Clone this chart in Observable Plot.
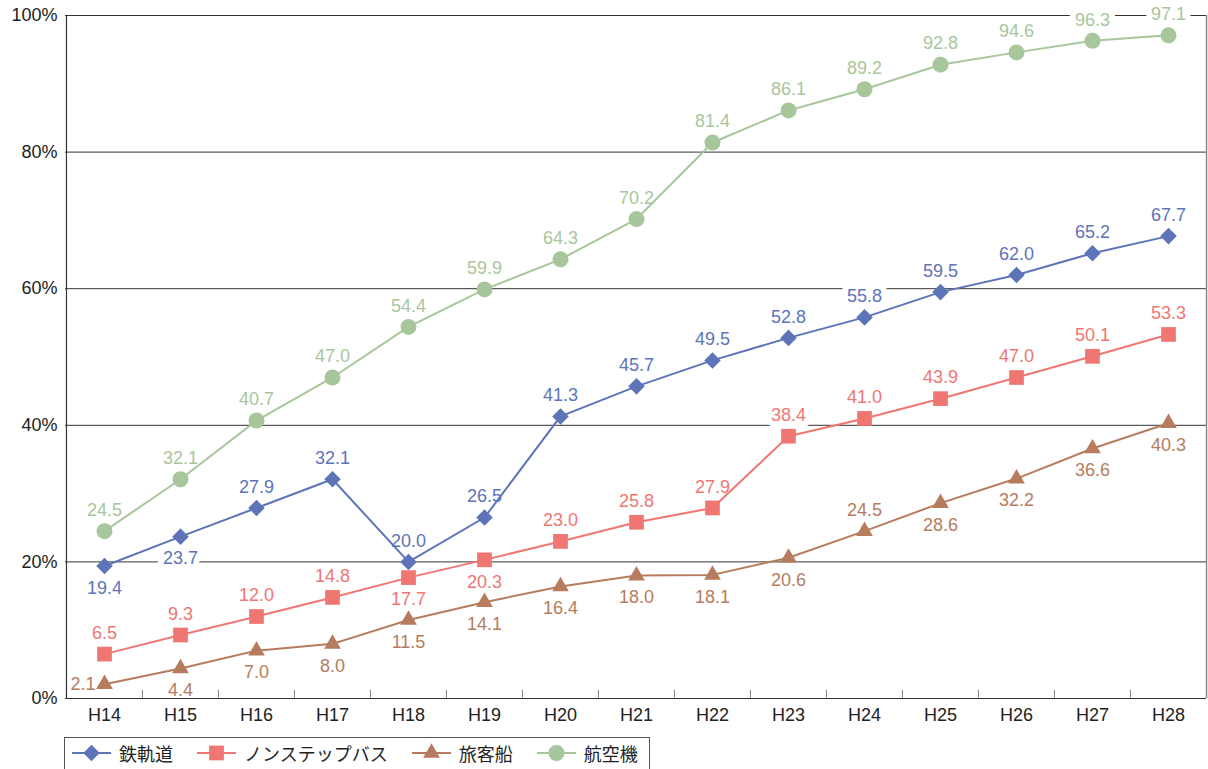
<!DOCTYPE html>
<html>
<head>
<meta charset="utf-8">
<script src="https://cdn.jsdelivr.net/npm/d3@7"></script>
<script src="https://cdn.jsdelivr.net/npm/@observablehq/plot@0.6"></script>
<style>
  html, body { margin: 0; padding: 0; background: #fff; overflow: hidden; }
  body { width: 1208px; height: 769px; position: relative; font-family: "Liberation Sans", "Noto Sans CJK JP", sans-serif; }
  #chart { position: absolute; left: 0; top: 0; }
  #legend { position: absolute; left: 64px; top: 737px; width: 586px; height: 40px; border: 1px solid #555; box-sizing: border-box;
            display: flex; align-items: center; padding: 0 0 8px 7px; font-size: 18px; color: #222; white-space: nowrap;
            font-family: "Noto Sans CJK JP", "Liberation Sans", sans-serif; }
  .item { display: flex; align-items: center; margin-right: 24px; flex-shrink: 0; white-space: nowrap; }
  .item svg { margin-right: 8px; flex-shrink: 0; }
</style>
</head>
<body>
<div id="chart"></div>
<div id="legend"></div>
<script>
const years = ["H14","H15","H16","H17","H18","H19","H20","H21","H22","H23","H24","H25","H26","H27","H28"];
const seriesNames = ["鉄軌道","ノンステップバス","旅客船","航空機"];
const rail = [19.4,23.7,27.9,32.1,20.0,26.5,41.3,45.7,49.5,52.8,55.8,59.5,62.0,65.2,67.7];
const bus  = [6.5,9.3,12.0,14.8,17.7,20.3,23.0,25.8,27.9,38.4,41.0,43.9,47.0,50.1,53.3];
const ship = [2.1,4.4,7.0,8.0,11.5,14.1,16.4,18.0,18.1,20.6,24.5,28.6,32.2,36.6,40.3];
const air  = [24.5,32.1,40.7,47.0,54.4,59.9,64.3,70.2,81.4,86.1,89.2,92.8,94.6,96.3,97.1];
// label placement: a = above, b = below, l = left
const railPos = ["b","b","a","a","a","a","a","a","a","a","a","a","a","a","a"];
const busPos  = ["a","a","a","a","b","b","a","a","a","a","a","a","a","a","a"];
const shipPos = ["l","b","b","b","b","b","b","b","b","b","a","b","b","b","b"];
const airPos  = ["a","a","a","a","a","a","a","a","a","a","a","a","a","a","a"];
const yTicks = [0,20,40,60,80,100];

const diamond = {
  draw(ctx, size) {
    const h = Math.sqrt(size / 2);
    ctx.moveTo(0, -h); ctx.lineTo(h, 0); ctx.lineTo(0, h); ctx.lineTo(-h, 0); ctx.closePath();
  }
};

const series = [
  {name: seriesNames[0], values: rail, pos: railPos, color: "#5d74b9", symbol: diamond, r: 6.6},
  {name: seriesNames[1], values: bus,  pos: busPos,  color: "#f07672", symbol: "square", r: 8.3},
  {name: seriesNames[2], values: ship, pos: shipPos, color: "#b67c5d", symbol: "triangle", r: 6.2},
  {name: seriesNames[3], values: air,  pos: airPos,  color: "#a8c69b", symbol: "circle", r: 8}
];

const W = 1208, H = 737, ML = 65, MR = 2, MT = 15, MB = 39;
const step = (W - ML - MR) / years.length;

const tables = series.map(s => years.map((y, i) => ({year: y, value: s.values[i], pos: s.pos[i]})));

function labelMarks(data, color, halo) {
  const common = {x: "year", y: "value", text: d => d.value.toFixed(1), fontSize: 18,
    fill: halo ? "white" : color, stroke: halo ? "white" : "none", strokeWidth: halo ? 12 : 0, strokeLinejoin: "round"};
  return [
    Plot.text(data.filter(d => d.pos === "a"), {...common, dy: -21}),
    Plot.text(data.filter(d => d.pos === "b"), {...common, dy: 22}),
    Plot.text(data.filter(d => d.pos === "l"), {...common, dx: -9, textAnchor: "end"})
  ];
}

const marks = [
  Plot.ruleY(yTicks.filter(d => d > 0), {stroke: "#333", strokeWidth: 1})
];
// white label backgrounds cut the grid lines
series.forEach((s, k) => marks.push(...labelMarks(tables[k], s.color, true)));
marks.push(
  Plot.ruleY([0], {stroke: "#333", strokeWidth: 1.2}),
  Plot.ruleX([years[0]], {dx: -step / 2, stroke: "#333", strokeWidth: 1.2}),
  Plot.ruleX([years[years.length - 1]], {dx: step / 2, stroke: "#888", strokeWidth: 1.5}),
  Plot.ruleX(years.slice(1), {dx: -step / 2, y1: 0, y2: 1.2, stroke: "#888"}),
  Plot.axisY({ticks: yTicks, tickFormat: d => d + "%", tickSize: 0, tickPadding: 8, fontSize: 18, fill: "#222", label: null}),
  Plot.axisX({tickSize: 0, tickPadding: 10, fontSize: 18, fill: "#222", label: null})
);
series.forEach((s, k) => {
  marks.push(Plot.line(tables[k], {x: "year", y: "value", stroke: s.color, strokeWidth: 2}));
});
series.forEach((s, k) => {
  marks.push(Plot.dot(tables[k], {x: "year", y: "value", symbol: s.symbol, r: s.r, fill: s.color, stroke: "none"}));
});
series.forEach((s, k) => marks.push(...labelMarks(tables[k], s.color, false)));

const chart = Plot.plot({
  width: W, height: H,
  marginLeft: ML, marginRight: MR, marginTop: MT, marginBottom: MB,
  style: {fontFamily: '"Liberation Sans", "Noto Sans CJK JP", sans-serif', background: "white"},
  x: {type: "point", domain: years, padding: 0.5, label: null},
  y: {domain: [0, 100], label: null},
  marks
});
document.getElementById("chart").appendChild(chart);

// legend
const legend = document.getElementById("legend");
for (const s of series) {
  const item = document.createElement("div");
  item.className = "item";
  const svg = d3.create("svg").attr("width", 39).attr("height", 20);
  svg.append("line").attr("x1", 0).attr("x2", 39).attr("y1", 10).attr("y2", 10).attr("stroke", s.color).attr("stroke-width", 2);
  const sym = typeof s.symbol === "string"
    ? ({square: d3.symbolSquare, triangle: d3.symbolTriangle, circle: d3.symbolCircle})[s.symbol]
    : s.symbol;
  svg.append("path").attr("transform", "translate(19.5,10)")
     .attr("d", d3.symbol(sym, Math.PI * s.r * s.r)()).attr("fill", s.color);
  item.appendChild(svg.node());
  const t = document.createElement("span");
  t.textContent = s.name;
  item.appendChild(t);
  legend.appendChild(item);
}
</script>
</body>
</html>
